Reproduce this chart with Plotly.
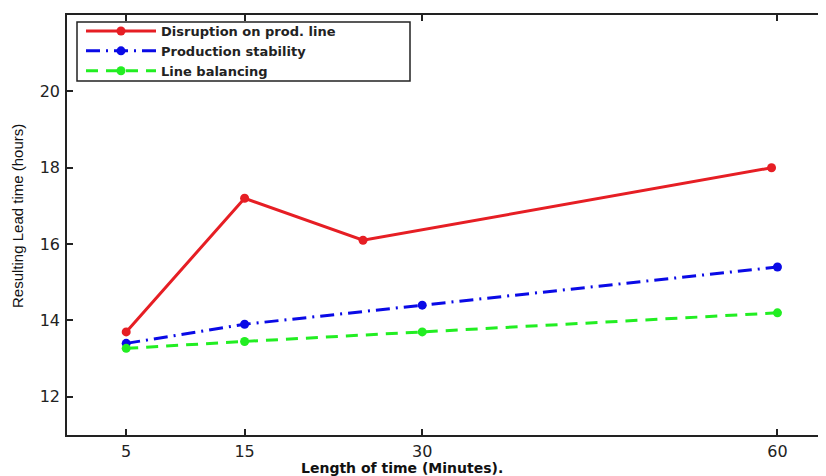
import plotly.graph_objects as go

# Data
disruption_x = [5, 15, 25, 59.5]
disruption_y = [13.7, 17.2, 16.1, 18.0]
stability_x = [5, 15, 30, 60]
stability_y = [13.4, 13.9, 14.4, 15.4]
balancing_x = [5, 15, 30, 60]
balancing_y = [13.27, 13.45, 13.7, 14.2]

x_ticks = [5, 15, 30, 60]
y_ticks = [12, 14, 16, 18, 20]

RED = "#e61e24"
BLUE = "#0a0ae6"
GREEN = "#22ee22"

fig = go.Figure()
fig.add_trace(go.Scatter(
    x=disruption_x, y=disruption_y, mode="lines+markers",
    name="Disruption on prod. line",
    line=dict(color=RED, width=3, dash="solid"),
    marker=dict(color=RED, size=9, symbol="circle")))
fig.add_trace(go.Scatter(
    x=stability_x, y=stability_y, mode="lines+markers",
    name="Production stability",
    line=dict(color=BLUE, width=3, dash="14px,6px,2px,6px"),
    marker=dict(color=BLUE, size=9, symbol="circle")))
fig.add_trace(go.Scatter(
    x=balancing_x, y=balancing_y, mode="lines+markers",
    name="Line balancing",
    line=dict(color=GREEN, width=3, dash="12px,8px"),
    marker=dict(color=GREEN, size=9, symbol="circle")))

# the page body adds an 8px offset; screen coordinates are converted here
OFF = 8
W, H = 826 - OFF, 476 - OFF
L, T = 67 - OFF, 15 - OFF
B = H - (435 - OFF)
PW, PH = W - L, H - T - B


def px_x(sx):
    return (sx - OFF - L) / PW


def px_y(sy):
    return (H - B - (sy - OFF)) / PH


fig.update_layout(
    width=W, height=H,
    margin=dict(l=L, r=0, t=T, b=B, autoexpand=False),
    paper_bgcolor="white", plot_bgcolor="white",
    font=dict(family="DejaVu Sans, Liberation Sans, sans-serif", color="#222"),
    showlegend=True,
    legend=dict(
        orientation="v",
        x=px_x(81), y=px_y(16), xanchor="left", yanchor="top",
        borderwidth=0, bgcolor="rgba(0,0,0,0)",
        font=dict(family="DejaVu Sans, sans-serif", size=13, color="#222", weight="bold"),
        itemwidth=70, tracegroupgap=0,
    ),
    shapes=[dict(
        type="rect", xref="paper", yref="paper",
        x0=px_x(77), x1=px_x(410), y0=px_y(81), y1=px_y(22),
        line=dict(color="#222", width=1.5), fillcolor="white", layer="above",
    )],
)

fig.update_xaxes(
    range=[0, 64.1], tickmode="array", tickvals=x_ticks,
    ticktext=[str(v) for v in x_ticks],
    showgrid=False, zeroline=False, automargin=False,
    showline=True, linecolor="#222", linewidth=1.5, mirror="ticks",
    ticks="inside", ticklen=6, tickcolor="#222", tickwidth=1.5,
    ticklabelstandoff=1,
    tickfont=dict(family="DejaVu Sans, sans-serif", size=16, color="#222"),
)
fig.update_yaxes(
    range=[11, 22], tickmode="array", tickvals=y_ticks,
    showgrid=False, zeroline=False, automargin=False,
    showline=True, linecolor="#222", linewidth=1.5, mirror=False,
    ticks="inside", ticklen=6, tickcolor="#222", tickwidth=1.5,
    ticklabelstandoff=2,
    tickfont=dict(family="DejaVu Sans, sans-serif", size=16, color="#222"),
)

fig.add_annotation(
    text="<b>Length of time (Minutes).</b>", xref="paper", yref="paper",
    x=px_x(402), y=px_y(468), xanchor="center", yanchor="middle",
    showarrow=False, font=dict(family="DejaVu Sans, sans-serif", size=14, color="#111"))

fig.add_annotation(
    text="Resulting Lead time (hours)", xref="paper", yref="paper",
    x=px_x(18), y=px_y(216), xanchor="center", yanchor="middle",
    textangle=-90, showarrow=False,
    font=dict(family="Liberation Sans, Arial, sans-serif", size=15, color="#111"))

fig.write_html("out.html")
